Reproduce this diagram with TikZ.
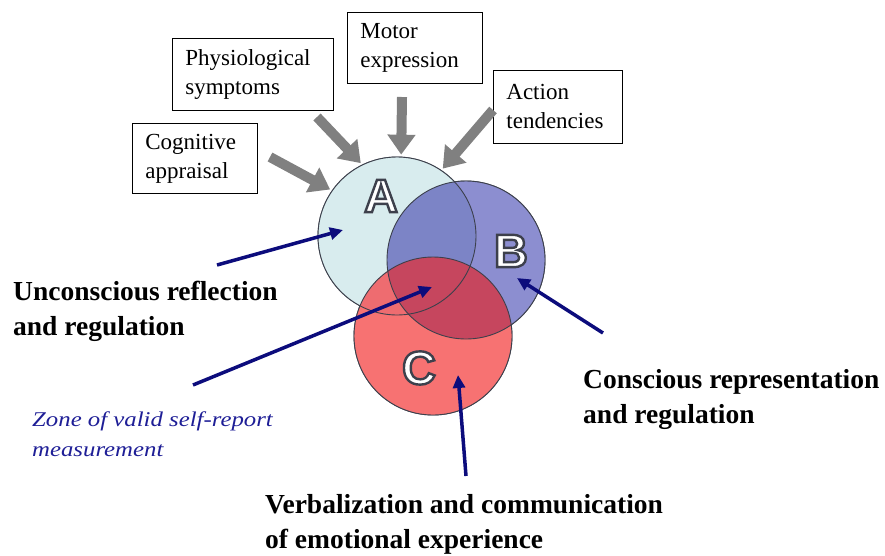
\documentclass[tikz,border=0pt]{standalone}
\usepackage{fontspec}
\setmainfont{Liberation Serif}
\newfontfamily\letterfont{Liberation Sans}
\newfontfamily\zonefont{Liberation Serif}[FakeStretch=1.18]
\usetikzlibrary{arrows.meta}

\definecolor{fillA}{HTML}{D8ECEE}
\definecolor{fillB}{HTML}{8C8ED0}
\definecolor{fillAB}{HTML}{7C84C6}
\definecolor{fillC}{HTML}{F77272}
\definecolor{fillAC}{HTML}{EE6C70}
\definecolor{fillBC}{HTML}{C6465E}
\definecolor{rimgray}{HTML}{3C404C}
\definecolor{arrowgray}{HTML}{808080}
\definecolor{navy}{HTML}{0C0C7C}
\definecolor{zoneblue}{HTML}{1E1E96}

% outlined white letter for the set names
\newcommand{\setname}[1]{\textcolor{white}{\special{pdf:literal direct 2 Tr 2.4 w 0.24 0.25 0.3 RG}#1\special{pdf:literal direct 0 Tr}}}

\tikzset{
  infobox/.style={draw=black, fill=white, line width=0.8pt, anchor=north west,
    align=left, inner xsep=13pt, inner ysep=0pt, font=\fontsize{23}{29}\selectfont},
  setcircle/.style={circle, draw=rimgray, line width=0.9pt, minimum size=158pt, inner sep=0pt},
  grayarrow/.style={draw=arrowgray, line width=10pt, -{Triangle[width=27pt,length=20pt]}, shorten >=2pt},
  bluearrow/.style={draw=navy, line width=3.5pt, -{Triangle[width=12pt,length=13pt]}},
  biglabel/.style={font=\fontsize{27.5}{35}\selectfont\bfseries, align=left, anchor=north west, inner sep=0pt},
  setletter/.style={font=\letterfont\bfseries\fontsize{47}{47}\selectfont, inner sep=0pt}
}

\begin{document}
\begin{tikzpicture}[x=1pt, y=-1pt]
  \useasboundingbox (0,0) rectangle (885,555);

  % the three sets
  \node[setcircle] (A) at (397,236) {};
  \node[setcircle] (B) at (466,260) {};
  \node[setcircle] (C) at (433,336) {};

  \fill[fillA] (A.center) circle[radius=79pt];
  \fill[fillB] (B.center) circle[radius=79pt];
  \begin{scope}
    \clip (A.center) circle[radius=79pt];
    \fill[fillAB] (B.center) circle[radius=79pt];
  \end{scope}
  \fill[fillC] (C.center) circle[radius=79pt];
  \begin{scope}
    \clip (A.center) circle[radius=79pt];
    \fill[fillAC] (C.center) circle[radius=79pt];
  \end{scope}
  \begin{scope}
    \clip (B.center) circle[radius=79pt];
    \fill[fillBC] (C.center) circle[radius=79pt];
  \end{scope}
  \foreach \s in {A,B,C}
    \draw[rimgray, line width=0.9pt] (\s.center) circle[radius=79pt];

  \node[setletter] (letA) at (381,196) {\setname{A}};
  \node[setletter] (letB) at (511,251) {\setname{B}};
  \node[setletter] (letC) at (419,368) {\setname{C}};

  % components of emotion
  \node[infobox, text width=99pt, minimum height=70pt] (cog) at (132,123) {Cognitive\\appraisal};
  \node[infobox, text width=135pt, minimum height=72pt] (phys) at (172,38) {Physiological\\symptoms};
  \node[infobox, text width=109pt, minimum height=71pt] (mot) at (347,12) {Motor\\expression};
  \node[infobox, text width=103pt, minimum height=73pt] (act) at (493,70) {Action\\tendencies};

  \coordinate (cogtail) at (270,157);
  \coordinate (phystail) at (317,117);
  \coordinate (mottail) at (402,97);
  \coordinate (acttail) at (493,110);
  \draw[grayarrow] (cogtail) -- (A.145);
  \draw[grayarrow] (phystail) -- (A.116);
  \draw[grayarrow] (mottail) -- (A.87);
  \draw[grayarrow] (acttail) -- (A.56);

  % levels
  \node[biglabel] (uncon) at (13,281) {Unconscious reflection\\and regulation};
  \node[biglabel] (con) at (583,369) {Conscious representation\\and regulation};
  \node[biglabel] (verb) at (265,494) {Verbalization and communication\\of emotional experience};
  \node[anchor=north west, inner sep=0pt, align=left, text=zoneblue,
    font=\zonefont\itshape\fontsize{21}{30}\selectfont] (zone) at (32,412)
    {Zone of valid self-report\\measurement};

  \coordinate (untail) at (217,265);
  \coordinate (untip) at (343,230);
  \coordinate (zotail) at (193,385);
  \coordinate (zotip) at (432,287);
  \coordinate (cotail) at (603,333);
  \coordinate (cotip) at (517,278);
  \coordinate (vetail) at (466,476);
  \coordinate (vetip) at (458,375);
  \draw[bluearrow] (untail) -- (untip);
  \draw[bluearrow] (zotail) -- (zotip);
  \draw[bluearrow] (cotail) -- (cotip);
  \draw[bluearrow] (vetail) -- (vetip);
\end{tikzpicture}
\end{document}
